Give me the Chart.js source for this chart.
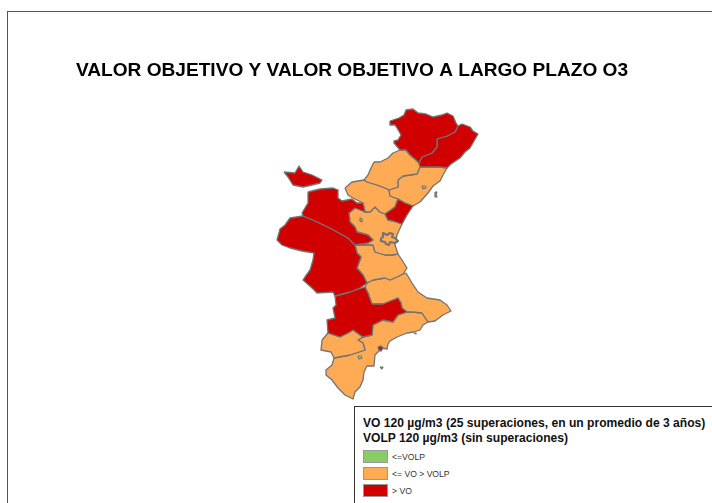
<!DOCTYPE html>
<html><head><meta charset="utf-8">
<style>
html,body{margin:0;padding:0;background:#fff;width:712px;height:503px;overflow:hidden;font-family:"Liberation Sans",Arial,sans-serif}
#wrap{position:relative;width:712px;height:503px;overflow:hidden}
#frame{position:absolute;left:7px;top:11px;width:720px;height:510px;border:1px solid #555;box-sizing:border-box;pointer-events:none}
#legend{position:absolute;left:354px;top:406px;width:370px;height:110px;background:#fff;border:1px solid #333;box-sizing:border-box}
#legend .h{position:absolute;left:8px;font:bold 12.1px "Liberation Sans",Arial,sans-serif;color:#111;white-space:nowrap}
#legend .sw{position:absolute;left:8px;width:25px;height:13px;border:1px solid #999;box-sizing:border-box}
#legend .t{position:absolute;left:37px;font:8.6px "Liberation Sans",Arial,sans-serif;color:#333;white-space:nowrap}
canvas{position:absolute;left:0;top:0}
</style>
<script src="https://cdn.jsdelivr.net/npm/chart.js@4"></script>
</head><body><div id="wrap">
<canvas id="c" width="712" height="503"></canvas>
<div id="frame"></div>
<div id="legend"></div>
</div>
<script>
const titleText = 'VALOR OBJETIVO Y VALOR OBJETIVO A LARGO PLAZO O3';
const legendHeading = ['VO 120 µg/m3 (25 superaciones, en un promedio de 3 años)','VOLP 120 µg/m3 (sin superaciones)'];
const legendLabels = ['<=VOLP','<= VO > VOLP','> VO'];
const legendColors = ['#88cc66','#ffaa55','#d00000'];
const outline = '#737373';

// Map outlines in map units
const ports = [[390,121],[396,119],[399,118],[404,115],[406,110],[413,109],[418,113],[426,114],[433,117],[442,115],[447,113],[453,116],[456,123],[458,126],[455,132],[447,136],[437,139],[437,147],[432,153],[422,157],[419,163],[416,160],[410,155],[406,150],[400,150],[394,143],[394,141],[398,140],[401,135],[397,128],[395,125],[390,125]];
const maestrat = [[458,126],[462,124],[470,127],[473,131],[478,134],[474,141],[470,148],[465,152],[460,158],[451,164],[447,168],[440,167],[430,167],[420,167],[419,163],[422,157],[432,153],[437,147],[437,139],[447,136],[455,132]];
const alcalaten = [[374,162],[380,162],[388,158],[393,153],[400,150],[406,150],[410,155],[416,160],[419,163],[420,167],[417,174],[410,175],[403,176],[398,180],[398,187],[389,190],[385,188],[377,185],[367,182],[364,180],[368,175],[371,168]];
const plana = [[420,167],[430,167],[440,167],[447,168],[443,175],[440,181],[433,186],[428,193],[420,202],[413,206],[405,203],[398,199],[390,196],[389,190],[398,187],[398,180],[403,176],[410,175],[417,174]];
const palancia = [[345,188],[352,182],[364,180],[367,182],[377,185],[385,188],[389,190],[390,196],[398,199],[395,207],[385,214],[380,212],[375,207],[370,212],[365,212],[363,203],[353,198],[348,195]];
const morvedre = [[385,214],[395,207],[398,199],[405,203],[413,206],[407,215],[402,224],[393,221],[388,220]];
const turia = [[349,213],[355,208],[363,203],[365,212],[370,212],[375,207],[380,212],[385,214],[388,220],[393,221],[402,224],[397,235],[395,245],[398,254],[392,255],[385,255],[375,252],[373,245],[355,245],[368,243],[373,240],[368,235],[357,232],[355,227],[350,222]];
const ribera = [[355,245],[373,245],[375,252],[385,255],[392,255],[398,254],[402,260],[407,268],[403,274],[397,277],[390,280],[385,278],[373,280],[367,283],[363,275],[357,268],[361,257],[357,253]];
const safor = [[367,283],[373,280],[385,278],[390,280],[397,277],[403,274],[406,273],[412,283],[418,292],[427,298],[440,300],[447,305],[451,311],[443,315],[435,321],[428,322],[422,313],[413,312],[407,312],[402,308],[401,303],[398,298],[383,304],[372,304],[368,293],[365,287]];
const serranos = [[308,192],[320,189],[333,188],[338,190],[338,198],[342,201],[352,199],[357,203],[363,203],[365,212],[355,208],[349,213],[350,222],[355,227],[357,232],[368,235],[373,240],[368,243],[355,245],[348,238],[330,228],[313,220],[303,216],[302,213],[308,203]];
const requena = [[303,216],[313,220],[330,228],[348,238],[355,245],[357,253],[361,257],[357,268],[363,275],[367,283],[360,288],[350,292],[335,296],[333,292],[317,293],[312,288],[303,280],[305,277],[310,270],[313,260],[314,253],[302,251],[290,248],[282,245],[277,240],[280,229],[285,225],[290,218]];
const ademuz = [[284,172],[295,173],[299,166],[303,172],[312,175],[322,180],[320,183],[312,185],[303,187],[293,185],[288,177]];
const albaida = [[335,296],[350,292],[365,287],[368,293],[372,304],[383,304],[398,298],[401,303],[402,308],[407,312],[398,315],[393,322],[383,320],[373,325],[372,335],[363,337],[353,330],[348,333],[340,337],[328,333],[327,320],[335,318],[333,308],[336,305]];
const vinalopo = [[322,340],[328,333],[340,337],[348,333],[353,330],[363,337],[358,340],[363,343],[365,350],[350,355],[334,358],[331,352],[321,350]];
const alacant = [[334,358],[350,355],[365,350],[363,343],[358,340],[363,337],[372,335],[373,325],[383,320],[393,322],[398,315],[407,312],[413,312],[422,313],[428,322],[423,325],[420,330],[414,332],[407,333],[397,337],[390,341],[388,344],[387,349],[382,348],[375,355],[374,366],[367,366],[364,372],[363,380],[360,387],[355,392],[353,399],[345,395],[338,388],[332,380],[326,375],[326,370],[332,365]];
const valenciaCity = [[381,238],[383,237],[383,233],[387,235],[390,233],[393,234],[392,237],[395,238],[398,241],[395,243],[390,242],[389,245],[386,244],[385,242],[381,241]];
const enclaveTuria = [[360,218],[362,219],[362,222],[360,221]];
const enclavePlana = [[422,186],[425,186],[426,188],[423,189]];
const enclaveVega = [[358,356],[361,356],[362,358],[359,359]];
const columbretes = [[435,192],[437,192],[436,194],[437,197],[435,197]];
const tabarca = [[380,367],[383,367],[382,369]];
const cabo = [[414,333],[416,333],[416,334]];
const alicanteCity = [[378,347],[381,346],[383,348],[381,351],[379,350]];

const redRegions = [ports, maestrat, morvedre, serranos, requena, ademuz, albaida];
const orangeRegions = [alcalaten, plana, palancia, turia, ribera, safor, vinalopo, alacant];
const enclaves = [valenciaCity, enclaveTuria, enclavePlana, enclaveVega, columbretes, tabarca, cabo];

function regionDataset(points, color, label, width){
  const data = points.concat([points[0]]).map(p => ({x:p[0], y:p[1]}));
  return {label, data, showLine:true, fill:'shape', backgroundColor:color, borderColor:outline,
    borderWidth:width, pointRadius:0, tension:0, borderJoinStyle:'round', clip:false};
}
const datasets = [
  regionDataset(valenciaCity, legendColors[1], legendLabels[1], 2.2),
  ...enclaves.slice(1).map(r => regionDataset(r, legendColors[1], legendLabels[1], 1.2)),
  regionDataset(alicanteCity, legendColors[2], legendLabels[2], 1.4),
  ...redRegions.map(r => regionDataset(r, legendColors[2], legendLabels[2], 1.3)),
  ...orangeRegions.map(r => regionDataset(r, legendColors[1], legendLabels[1], 1.3))
];

new Chart(document.getElementById('c'), {
  type:'scatter',
  data:{datasets},
  options:{
    responsive:false, animation:false, events:[],
    layout:{padding:{left:76,top:0,right:0,bottom:0}},
    plugins:{
      legend:{display:false}, tooltip:{enabled:false},
      title:{display:true, text:titleText, align:'start', color:'#000',
        font:{family:'"Liberation Sans",Arial,sans-serif', size:19.1, weight:'bold', lineHeight:1.25},
        padding:{top:59,bottom:7.125}}
    },
    scales:{
      x:{type:'linear', display:false, min:76, max:712},
      y:{type:'linear', display:false, min:90, max:503, reverse:true}
    }
  }
});

const lg = document.getElementById('legend');
legendHeading.forEach((t,i)=>{const d=document.createElement('div');d.className='h';d.textContent=t;d.style.top=(9+i*14.5)+'px';lg.appendChild(d);});
legendLabels.forEach((t,i)=>{
  const s=document.createElement('div');s.className='sw';s.style.background=legendColors[i];s.style.top=(43+i*17)+'px';lg.appendChild(s);
  const d=document.createElement('div');d.className='t';d.textContent=t;d.style.top=(45+i*17)+'px';lg.appendChild(d);
});
</script></body></html>
